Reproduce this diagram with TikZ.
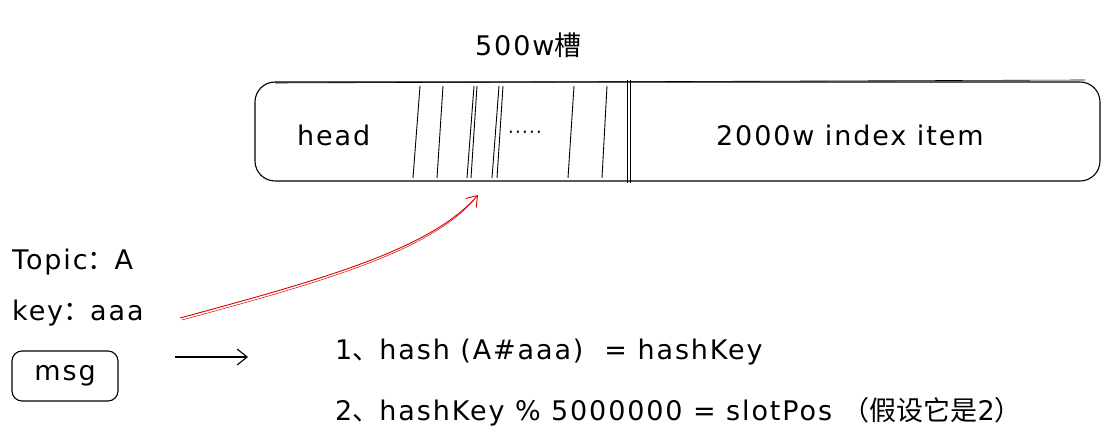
\documentclass[tikz,border=0pt]{standalone}
\usepackage{fontspec}
\setmainfont{DejaVu Sans}[LetterSpace=7]
\newfontfamily\cjk{Noto Sans CJK SC}
\usetikzlibrary{arrows.meta}
\begin{document}
\begin{tikzpicture}[x=1pt,y=-1pt,
  txt/.style={font=\fontsize{27}{31}\selectfont, inner sep=0pt, anchor=west},
  sketch/.style={line width=1.1pt, black},
  slot/.style={line width=0.9pt, black}]
\useasboundingbox (0,0) rectangle (1108,443);
% main bar
\draw[sketch, rounded corners=20pt] (255,82) rectangle (1100,181);
\draw[line width=0.6pt] (275,83) -- (1085,80);
\node (box) at (677,131) {};
% slot lines
\foreach \a/\b in {413/420, 437/443, 467/474, 471/477, 492/499, 497/503, 568/574, 602/607}{
  \draw[slot] (\a,178) -- (\b,86);
}
\draw[slot] (627,183) -- (627,80);
\draw[slot] (630,183) -- (630,80);
\node[txt] (head) at (297,135) {head};
\node[font=\fontsize{18}{20}\selectfont, inner sep=0pt, anchor=west] (dots) at (508,135) {·····};
\node[txt] (idx) at (716,135) {2000w index item};
\node[txt] (slots) at (475,45) {500w{\cjk 槽}};
% left side
\node[txt] (topic) at (12,262) {Topic{\cjk ：}A};
\node[txt] (key) at (12,313) {key{\cjk ：}aaa};
\node[draw, sketch, rounded corners=10pt, minimum width=106pt, minimum height=50pt,
  font=\fontsize{27}{31}\selectfont] (msg) at (65,376) {msg};
\coordinate (a1) at (175,357);
\coordinate (a2) at (248,357);
\draw[sketch, -{Straight Barb[length=10pt,width=16pt]}] (a1) -- (a2);
% red arrow
\coordinate (r1) at (180,318);
\coordinate (r2) at (478,195);
\draw[red!85!black, line width=0.9pt, -{Straight Barb[length=10pt,width=14pt]}]
  (r1) .. controls (320,280) and (430,250) .. (r2);
\draw[red!85!black, line width=0.5pt] (182,320) .. controls (322,282) and (428,252) .. (474,200);
% formulas
\node[txt] (f1) at (335,352) {1{\cjk 、}hash (A\#aaa)\ \ = hashKey};
\node[txt] (f2) at (335,412) {2{\cjk 、}hashKey \% 5000000 = slotPos {\cjk （假设它是}2{\cjk ）}};
\end{tikzpicture}
\end{document}
